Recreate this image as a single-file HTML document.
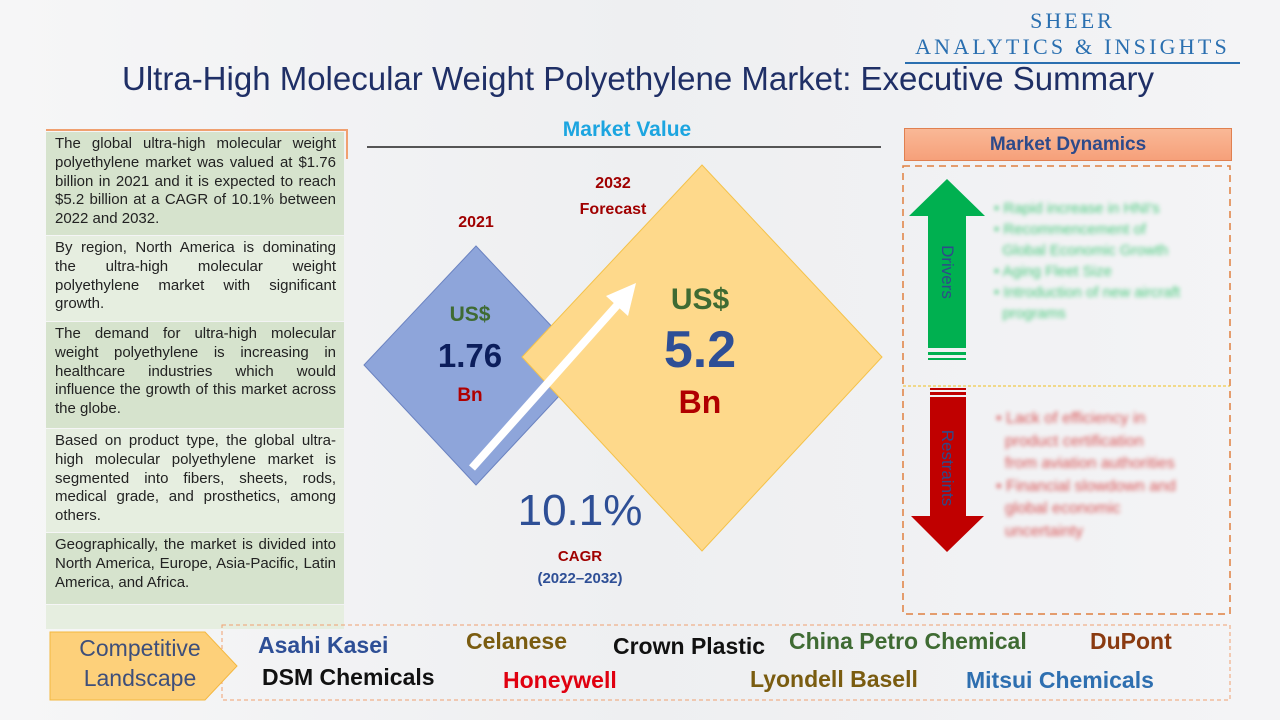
<!DOCTYPE html>
<html><head><meta charset="utf-8">
<style>
body{margin:0;width:1280px;height:720px;overflow:hidden;font-family:"Liberation Sans",sans-serif;}
#root{position:relative;width:1280px;height:720px;background:linear-gradient(90deg,#f6f6f7,#eeeff1 50%,#f4f4f6);}
.abs{position:absolute;}
.cell{position:absolute;left:46px;width:281px;padding:3px 8px 0 9px;font-size:15px;line-height:18.8px;color:#222;text-align:justify;}
.d{background:#d6e3cd;}.l{background:#e6eee0;}
.co{position:absolute;font-weight:bold;font-size:23px;white-space:nowrap;}
</style></head><body>
<div id="root">
<div class="abs" style="left:905px;top:8px;width:335px;text-align:center;color:#2a6fb0;font-family:'Liberation Serif',serif;">
 <div style="font-size:22px;letter-spacing:3px;">SHEER</div>
 <div style="font-size:22px;letter-spacing:3.2px;line-height:26px;">ANALYTICS &amp; INSIGHTS</div>
 <div style="height:2px;background:#2a6fb0;margin:2px 0 0 0;"></div>
</div>
<div class="abs" style="left:0;width:1276px;top:60px;text-align:center;font-size:33px;color:#1f2f66;">Ultra-High Molecular Weight Polyethylene Market: Executive Summary</div>

<div class="abs" style="left:46px;top:129px;width:302px;height:2px;background:#f0a070;"></div>
<div class="abs" style="left:346px;top:129px;width:2px;height:30px;background:#f0a070;"></div>
<div class="cell d" style="top:132px;height:100px;">The global ultra-high molecular weight polyethylene market was valued at $1.76 billion in 2021 and it is expected to reach $5.2 billion at a CAGR of 10.1% between 2022 and 2032.</div>
<div class="cell l" style="top:236px;height:82px;">By region, North America is dominating the ultra-high molecular weight polyethylene market with significant growth.</div>
<div class="cell d" style="top:322px;height:103px;">The demand for ultra-high molecular weight polyethylene is increasing in healthcare industries which would influence the growth of this market across the globe.</div>
<div class="cell l" style="top:429px;height:100px;">Based on product type, the global ultra-high molecular polyethylene market is segmented into fibers, sheets, rods, medical grade, and prosthetics, among others.</div>
<div class="cell d" style="top:533px;height:68px;">Geographically, the market is divided into North America, Europe, Asia-Pacific, Latin America, and Africa.</div>
<div class="cell l" style="top:605px;height:24px;padding:0 8px 0 9px;"></div>

<div class="abs" style="left:540px;top:118px;width:174px;text-align:center;font-weight:bold;font-size:21px;color:#1ca5e0;">Market Value</div>
<div class="abs" style="left:367px;top:146px;width:514px;height:2px;background:#555;"></div>

<svg class="abs" style="left:0;top:0" width="1280" height="720">
 <polygon points="476,246 588,365 476,485 364,365" fill="#8ea5da" stroke="#6a82c0" stroke-width="1"/>
 <polygon points="702,165 882,357 702,551 522,357" fill="#fed98b" stroke="#f4c24a" stroke-width="1"/>
 <line x1="472" y1="468" x2="620" y2="302" stroke="#fff" stroke-width="8"/>
 <polygon points="636,283 628,316 606,296" fill="#fff"/>
 <polygon points="947,179 985,216 966,216 966,348 928,348 928,216 909,216" fill="#00b050"/>
 <rect x="928" y="352" width="38" height="3" fill="#00b050"/>
 <rect x="928" y="358" width="38" height="2" fill="#00b050"/>
 <polygon points="930,397 966,397 966,516 984,516 947,552 911,516 930,516" fill="#c00000"/>
 <rect x="930" y="388" width="36" height="2" fill="#c00000"/>
 <rect x="930" y="392" width="36" height="3" fill="#c00000"/>
 <rect x="903" y="166" width="327" height="448" fill="none" stroke="#e08040" stroke-width="1.5" stroke-dasharray="7,5"/>
 <line x1="903" y1="386" x2="1230" y2="386" stroke="#f0c020" stroke-width="1" stroke-dasharray="3,2"/>
 <rect x="222" y="625" width="1008" height="75" fill="none" stroke="#f0a070" stroke-width="1" stroke-dasharray="4,3"/>
 <polygon points="50,632 205,632 237,666 205,700 50,700" fill="#fdd07a" stroke="#f4b840" stroke-width="1"/>
</svg>

<div class="abs" style="left:436px;top:214px;width:80px;text-align:center;font-weight:bold;font-size:16px;color:#a00000;">2021</div>
<div class="abs" style="left:563px;top:171px;width:100px;text-align:center;font-weight:bold;font-size:16px;line-height:26px;color:#a00000;">2032<br>Forecast</div>
<div class="abs" style="left:420px;top:302px;width:100px;text-align:center;font-weight:bold;">
 <div style="font-size:21px;line-height:26px;color:#3f6b33;">US$</div>
 <div style="font-size:33px;line-height:40px;color:#0c1e5c;margin-top:8px;">1.76</div>
 <div style="font-size:19px;line-height:24px;color:#b00000;margin-top:8px;">Bn</div>
</div>
<div class="abs" style="left:640px;top:282px;width:120px;text-align:center;font-weight:bold;">
 <div style="font-size:30px;line-height:36px;color:#3f6b33;">US$</div>
 <div style="font-size:52px;color:#2e4f96;line-height:64px;">5.2</div>
 <div style="font-size:32px;line-height:40px;color:#b00000;">Bn</div>
</div>
<div class="abs" style="left:490px;top:486px;width:180px;text-align:center;font-size:44px;color:#2e4f96;">10.1%</div>
<div class="abs" style="left:510px;top:546px;width:140px;text-align:center;font-weight:bold;font-size:15px;line-height:22px;color:#a00000;">CAGR<br><span style="color:#2e4f96;">(2022–2032)</span></div>

<div class="abs" style="left:904px;top:128px;width:326px;height:31px;background:linear-gradient(#f9b896,#f6a07a);border:1px solid #e08050;text-align:center;font-weight:bold;font-size:19px;line-height:31px;color:#2e4a8a;">Market Dynamics</div>
<div class="abs" style="left:907px;top:262px;width:80px;text-align:center;transform:rotate(90deg);font-size:17px;color:#2e4a8a;">Drivers</div>
<div class="abs" style="left:897px;top:458px;width:100px;text-align:center;transform:rotate(90deg);font-size:17px;color:#2e4a8a;">Restraints</div>
<div class="abs" style="left:994px;top:198px;width:230px;font-size:15px;line-height:21px;color:#20c060;filter:blur(2px);opacity:.8;">• Rapid increase in HNI's<br>• Recommencement of<br>&nbsp;&nbsp;Global Economic Growth<br>• Aging Fleet Size<br>• Introduction of new aircraft<br>&nbsp;&nbsp;programs</div>
<div class="abs" style="left:996px;top:408px;width:225px;font-size:16px;line-height:22.5px;color:#d02020;filter:blur(2px);opacity:.75;">• Lack of efficiency in<br>&nbsp;&nbsp;product certification<br>&nbsp;&nbsp;from aviation authorities<br>• Financial slowdown and<br>&nbsp;&nbsp;global economic<br>&nbsp;&nbsp;uncertainty</div>

<div class="abs" style="left:60px;top:633px;width:160px;text-align:center;font-size:23px;line-height:30px;color:#3e4f7a;">Competitive<br>Landscape</div>
<div class="co" style="left:258px;top:632px;color:#2e4f96;">Asahi Kasei</div>
<div class="co" style="left:466px;top:628px;color:#7a5c10;">Celanese</div>
<div class="co" style="left:613px;top:633px;color:#111;">Crown Plastic</div>
<div class="co" style="left:789px;top:628px;color:#3f6b33;">China Petro Chemical</div>
<div class="co" style="left:1090px;top:628px;color:#8a3a10;">DuPont</div>
<div class="co" style="left:262px;top:664px;color:#111;">DSM Chemicals</div>
<div class="co" style="left:503px;top:667px;color:#e00010;">Honeywell</div>
<div class="co" style="left:750px;top:666px;color:#7a5c10;">Lyondell Basell</div>
<div class="co" style="left:966px;top:667px;color:#2e6fb0;">Mitsui Chemicals</div>
</div>
</body></html>
